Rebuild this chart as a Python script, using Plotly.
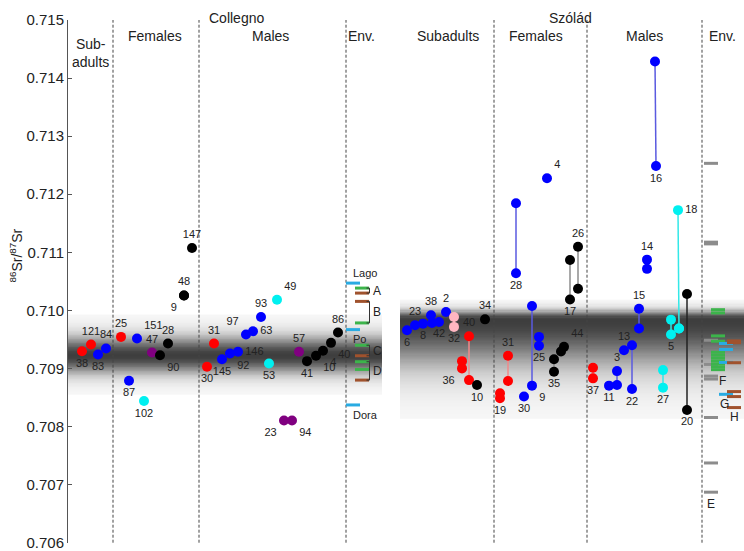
import math
import plotly.graph_objects as go

FONT = "Liberation Sans, Arial, sans-serif"

# ---------------- Collegno: one enamel value per individual ----------------
col_ids = ["38", "121", "84", "83",
           "25", "151", "87", "102", "47", "28", "90", "48", "9", "147",
           "31", "30", "145", "92", "146", "97", "63", "93", "49", "53", "57", "23", "94",
           "41", "10", "4", "40", "86"]
col_x = [82, 91, 106, 98,
         121, 137, 129, 144, 152, 168, 160, 184, 184, 192,
         214, 207, 222, 230, 238, 246, 253, 261, 277, 269, 299, 284, 292,
         307, 316, 323, 331, 338]
col_sr = [0.709297, 0.709412, 0.709344, 0.709241,
          0.709544, 0.709515, 0.708790, 0.708440, 0.709275, 0.709429, 0.709229, 0.710257, 0.710257, 0.711075,
          0.709429, 0.709030, 0.709160, 0.709258, 0.709287, 0.709584, 0.709640, 0.709887, 0.710184, 0.709087,
          0.709287, 0.708104, 0.708104,
          0.709126, 0.709219, 0.709304, 0.709441, 0.709618]
col_group = ["red", "red", "blue", "blue",
             "red", "blue", "blue", "cyan", "purple", "black", "black", "black", "black", "black",
             "red", "red", "blue", "blue", "blue", "blue", "blue", "blue", "cyan", "cyan", "purple", "purple", "purple",
             "black", "black", "black", "black", "black"]
col_label_pos = ["bottom center", "top center", "top center", "bottom center",
                 "top center", "top right", "bottom center", "bottom center", "top center", "top center",
                 "bottom right", "top center", "bottom left", "top center",
                 "top center", "bottom center", "bottom center", "bottom right", "middle right", "top left",
                 "middle right", "top center", "top right", "bottom center", "top center", "bottom left", "bottom right",
                 "bottom center", "bottom right", "bottom right", "bottom right", "top center"]

# Collegno environmental samples
col_env_sr = [0.710470, 0.710384, 0.710298, 0.710155, 0.709784, 0.709669,
              0.709400, 0.709219, 0.709116, 0.708984, 0.708800, 0.708372]
col_env_type = ["water", "plant", "soil", "soil", "plant", "water",
                "plant", "soil", "plant", "plant", "soil", "water"]
col_env_group = ["Lago", "A", "A", "B", "B", "Po", "C", "C", "D", "D", "D", "Dora"]

# ---------------- Szólád: samples (several per individual where linked) ----------------
szo_ind = ["6", "23", "8", "38", "s1", "42", "2", "32", "32", "34", "40", "40", "36", "36", "10",
           "19", "19", "31", "31", "30", "9", "9", "25", "25", "28", "28", "4", "26", "26", "17", "17",
           "44", "44", "35", "35",
           "37", "37", "11", "3", "3", "13", "22", "22", "15", "15", "14", "14", "16", "16",
           "18", "18", "5", "5", "5", "27", "27", "20", "20"]
szo_x = [407, 415, 423, 431, 432, 439, 446, 454, 454, 485, 469, 469, 462, 462, 477,
         500, 500, 508, 508, 524, 532, 532, 539, 539, 516, 516, 547, 578, 578, 570, 570,
         561, 564, 554, 554,
         593, 593, 609, 617, 617, 624, 632, 632, 639, 639, 647, 647, 655, 656,
         678, 679, 671, 671, 679, 663, 663, 687, 687]
szo_sr = [0.709657, 0.709743, 0.709772, 0.709915, 0.709784, 0.709801, 0.709973, 0.709887, 0.709716,
          0.709846, 0.709555, 0.708800, 0.709126, 0.709001, 0.708715,
          0.708572, 0.708487, 0.709219, 0.708783, 0.708516, 0.710076, 0.708704, 0.709544, 0.709390,
          0.711846, 0.710641, 0.712275, 0.711097, 0.710372, 0.710869, 0.710189,
          0.709292, 0.709372, 0.709160, 0.708944,
          0.709013, 0.708830, 0.708704, 0.708955, 0.708715, 0.709315, 0.709400, 0.708646,
          0.710029, 0.709687, 0.710874, 0.710715, 0.714285, 0.712486,
          0.711726, 0.709687, 0.709841, 0.709584, 0.709687, 0.708972, 0.708670, 0.710281, 0.708286]
szo_group = ["blue"] * 7 + ["pink", "pink", "black", "red", "red", "red", "red", "black",
                            "red", "red", "red", "red", "blue", "blue", "blue", "blue", "blue",
                            "blue", "blue", "blue", "black", "black", "black", "black",
                            "black", "black", "black", "black",
                            "red", "red", "blue", "blue", "blue", "blue", "blue", "blue",
                            "blue", "blue", "blue", "blue", "blue", "blue",
                            "cyan", "cyan", "cyan", "cyan", "cyan", "cyan", "cyan", "black", "black"]
szo_label = ["6", "23", "8", "38", "", "42", "2", "", "32", "34", "40", "", "", "36", "10",
             "", "19", "31", "", "30", "", "9", "", "25", "", "28", "4", "26", "", "", "17",
             "", "44", "", "35",
             "", "37", "11", "3", "", "13", "", "22", "15", "", "14", "", "", "16",
             "18", "", "", "5", "", "", "27", "", "20"]
szo_label_pos = ["bottom center", "top center", "bottom center", "top center", "bottom center",
                 "bottom center", "top center", "top center", "bottom center", "top center",
                 "top center", "bottom center", "bottom center", "bottom left", "bottom center",
                 "bottom center", "bottom center", "top center", "bottom center", "bottom center",
                 "bottom center", "bottom right", "bottom center", "bottom center", "bottom center",
                 "bottom center", "top right", "top center", "bottom center", "bottom center",
                 "bottom center", "bottom center", "top right", "bottom center", "bottom center",
                 "bottom center", "bottom center", "bottom center", "top center", "bottom center",
                 "top center", "bottom center", "bottom center", "top center", "bottom center",
                 "top center", "bottom center", "bottom center", "bottom center",
                 "middle right", "bottom center", "bottom center", "bottom center", "bottom center",
                 "bottom center", "bottom center", "bottom center", "bottom center"]

# Szólád environmental samples
szo_env_sr = [0.712532, 0.711175, 0.711145, 0.709486, 0.709070, 0.708869, 0.708818, 0.708156, 0.707373, 0.706870,
              0.710012, 0.709956, 0.709561, 0.709469, 0.709280, 0.709230, 0.709180, 0.709130, 0.709080,
              0.709030, 0.708980,
              0.709430, 0.709327, 0.709104, 0.708555,
              0.709475, 0.709445, 0.709099, 0.708602, 0.708516, 0.708327]
szo_env_type = ["rock"] * 10 + ["plant"] * 11 + ["water"] * 4 + ["soil"] * 6

# local baseline bands (centre, upper and lower half-width)
col_band = (0.709224, 0.000703, 0.000668)
szo_band = (0.709841, 0.000343, 0.001714)

# ---------------- styling ----------------
colors = {"red": "#ff0000", "blue": "#0000ff", "cyan": "#00f0f0", "black": "#000000",
          "purple": "#800080", "pink": "#ffb6c1"}
link_colors = {"red": "#f08a8a", "blue": "#5a5ae0", "cyan": "#33e8e8", "black": "#8c8c8c", "pink": "#ffb6c1"}
link_override = {"20": "#222222"}
env_colors = {"water": "#29abe2", "plant": "#3cb44b", "soil": "#a0522d", "rock": "#8c8c8c"}
col_env_x = {"water": 353, "plant": 362, "soil": 362}
szo_env_x = {"rock": 711, "plant": 718, "water": 726, "soil": 734}
dividers = [113, 199, 346, 494, 587, 702]

fig = go.Figure()


def band_trace(x0, x1, band, n=100):
    mid, up, down = band
    edges = [mid - down + (up + down) * i / n for i in range(n + 1)]
    z = []
    for lo, hi in zip(edges[:-1], edges[1:]):
        c = (lo + hi) / 2
        d = (c - mid) / up if c >= mid else (mid - c) / down
        z.append([0.04 + 0.96 * math.exp(-(d / 0.48) ** 2)])
    return go.Heatmap(x=[x0, x1], y=edges, z=z, zmin=0, zmax=1, showscale=False,
                      colorscale=[[0, "#ffffff"], [0.3, "#cfcfcf"], [1, "#3e3e3e"]], hoverinfo="skip")


fig.add_trace(band_trace(68, 382, col_band))
fig.add_trace(band_trace(400, 744, szo_band))

# dashed separators
dx, dy = [], []
for x in dividers:
    dx += [x, x, None]
    dy += [0.706, 0.715, None]
fig.add_trace(go.Scatter(x=dx, y=dy, mode="lines", hoverinfo="skip",
                         line=dict(color="#444", width=1, dash="3px,2px")))

# links between samples of the same individual (Szólád)
links = {}
prev = None
for i, ind in enumerate(szo_ind):
    if prev is not None and szo_ind[prev] == ind:
        col = link_override.get(ind, link_colors[szo_group[i]])
        lx, ly = links.setdefault(col, ([], []))
        lx += [szo_x[prev], szo_x[i], None]
        ly += [szo_sr[prev], szo_sr[i], None]
    prev = i
for col, (lx, ly) in links.items():
    fig.add_trace(go.Scatter(x=lx, y=ly, mode="lines", hoverinfo="skip",
                             line=dict(color=col, width=1.5)))

# environmental bars
fig.add_trace(go.Scatter(
    x=[col_env_x[t] for t in col_env_type], y=col_env_sr, mode="markers", hoverinfo="skip",
    marker=dict(symbol="line-ew", size=10, line=dict(width=3, color=[env_colors[t] for t in col_env_type]))))
fig.add_trace(go.Scatter(
    x=[szo_env_x[t] for t in szo_env_type], y=szo_env_sr, mode="markers", hoverinfo="skip",
    marker=dict(symbol="line-ew", size=10, line=dict(width=3, color=[env_colors[t] for t in szo_env_type]))))

# brackets for Collegno plant/soil groups
for g in ["A", "B", "C", "D"]:
    vals = [v for v, gg in zip(col_env_sr, col_env_group) if gg == g]
    top, bot = max(vals), min(vals)
    fig.add_trace(go.Scatter(x=[366.5, 369.5, 369.5, 366.5], y=[top, top, bot, bot], mode="lines",
                             hoverinfo="skip", line=dict(color="#333", width=1)))
    fig.add_annotation(x=371, y=(top + bot) / 2, text=g, showarrow=False, xanchor="left",
                       font=dict(size=12, color="#222", family=FONT))

# individuals
fig.add_trace(go.Scatter(
    x=col_x, y=col_sr, mode="markers+text", text=col_ids, textposition=col_label_pos,
    textfont=dict(size=11, color="#222", family=FONT), cliponaxis=False,
    marker=dict(size=10, color=[colors[g] for g in col_group])))
fig.add_trace(go.Scatter(
    x=szo_x, y=szo_sr, mode="markers+text", text=szo_label, textposition=szo_label_pos,
    textfont=dict(size=11, color="#222", family=FONT), cliponaxis=False,
    marker=dict(size=10, color=[colors[g] for g in szo_group])))

# environment labels
for name, dy_ in [("Lago", 10), ("Po", -9), ("Dora", -10)]:
    i = col_env_group.index(name)
    fig.add_annotation(x=col_env_x["water"], y=col_env_sr[i], text=name, showarrow=False,
                       xanchor="left", xshift=-2, yshift=dy_, font=dict(size=11, color="#222", family=FONT))
fig.add_annotation(x=szo_env_x["rock"], y=min(szo_env_sr), text="E", showarrow=False, yshift=-12,
                   font=dict(size=12, color="#222", family=FONT))
fig.add_annotation(x=szo_env_x["rock"], y=0.708818, text="F", showarrow=False, xanchor="left", xshift=6,
                   yshift=-2, font=dict(size=12, color="#222", family=FONT))
fig.add_annotation(x=szo_env_x["water"], y=0.708555, text="G", showarrow=False, xshift=-2, yshift=-10,
                   font=dict(size=12, color="#222", family=FONT))
fig.add_annotation(x=szo_env_x["soil"], y=0.708327, text="H", showarrow=False, yshift=-9,
                   font=dict(size=12, color="#222", family=FONT))

# headers
headers = [(236, 1.0235, "Collegno"), (570, 1.0235, "Szólád"),
           (155, 0.988, "Females"), (270, 0.988, "Males"), (361, 0.988, "Env."),
           (448, 0.988, "Subadults"), (536, 0.988, "Females"), (644, 0.988, "Males"), (722, 0.988, "Env.")]
for x, y, t in headers:
    fig.add_annotation(x=x, y=y, yref="paper", text=t, showarrow=False,
                       font=dict(size=14, color="#222", family=FONT))
fig.add_annotation(x=90, y=0.973, yref="paper", text="Sub-<br>adults", showarrow=False,
                   font=dict(size=14, color="#222", family=FONT))
fig.add_annotation(x=-0.093, y=0.55, xref="paper", yref="paper", textangle=-90,
                   text="<sup>86</sup>Sr/<sup>87</sup>Sr", showarrow=False,
                   font=dict(size=14, color="#222", family=FONT))

fig.update_layout(
    width=744, height=551,
    margin=dict(l=68, r=0, t=20, b=6),
    plot_bgcolor="white", paper_bgcolor="white",
    showlegend=False,
    font=dict(family=FONT, color="#222"),
)
fig.update_xaxes(range=[68, 744], visible=False)
fig.update_yaxes(range=[0.705995, 0.715], tickvals=[0.706 + 0.001 * k for k in range(10)],
                 tickformat=".3f", showgrid=False, zeroline=False,
                 showline=True, linecolor="#555", ticks="inside", ticklen=4, tickcolor="#555",
                 ticklabeloverflow="allow",
                 tickfont=dict(size=15, color="#222", family=FONT))

fig.write_html("out.html", config={"displayModeBar": False},
               post_script="document.body.style.margin='0';")
